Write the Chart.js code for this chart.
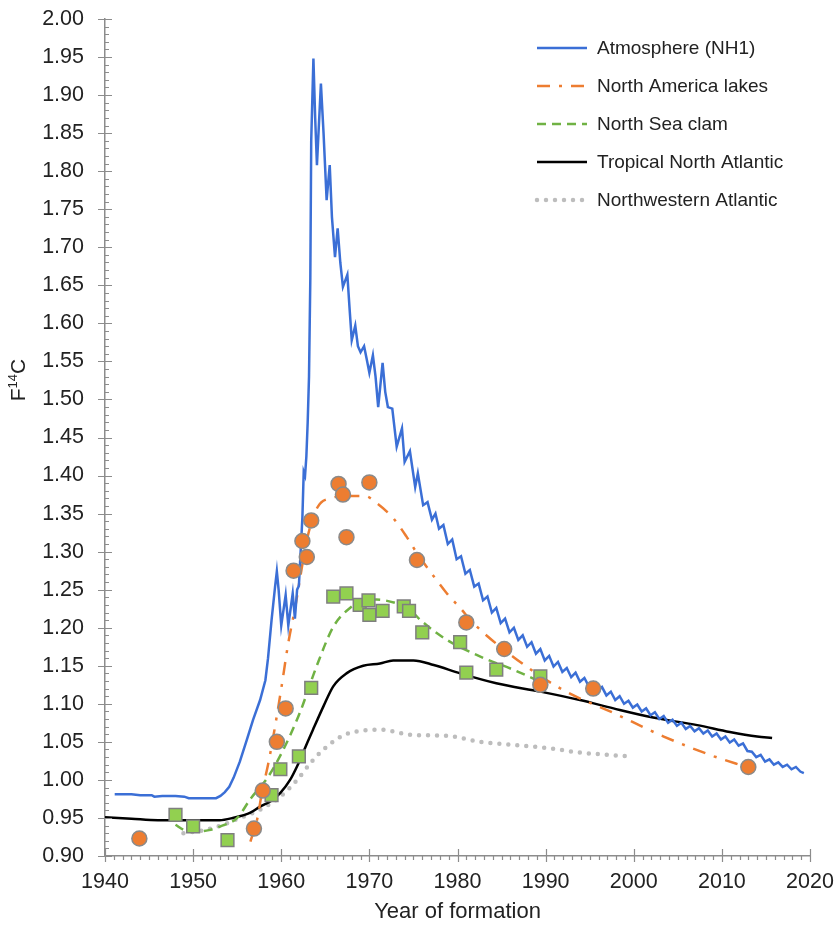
<!DOCTYPE html>
<html>
<head>
<meta charset="utf-8">
<script src="https://cdn.jsdelivr.net/npm/chart.js@4.4.1/dist/chart.umd.min.js"></script>
<style>
  html, body { margin: 0; padding: 0; background: #fff; }
  #wrap { width: 836px; height: 925px; }
</style>
</head>
<body>
<div id="wrap"><canvas id="grafico"></canvas></div>
<script>
// values: [year, F14C]
const atmosphere = [
  [1941.1,0.981],[1942,0.981],[1943,0.981],[1944,0.980],[1945.3,0.980],[1945.6,0.978],[1946.5,0.979],[1948,0.979],
  [1949,0.978],[1949.5,0.976],[1951,0.976],[1952.6,0.976],[1953.1,0.979],[1953.6,0.984],[1954.1,0.991],[1954.6,1.003],
  [1955.3,1.024],[1956.1,1.053],[1956.8,1.079],[1957.6,1.105],[1958.2,1.131],[1958.5,1.160],[1958.9,1.210],[1959.3,1.254],
  [1959.5,1.274],[1959.7,1.250],[1960.0,1.203],[1960.5,1.243],[1960.8,1.203],[1961.3,1.245],[1961.55,1.212],[1961.8,1.250],
  [1962.0,1.255],[1962.2,1.300],[1962.4,1.345],[1962.55,1.405],[1962.7,1.400],[1962.85,1.425],[1963.0,1.470],[1963.15,1.530],
  [1963.3,1.660],[1963.4,1.840],[1963.65,1.948],[1963.85,1.870],[1964.05,1.808],[1964.5,1.915],[1964.8,1.850],[1965.15,1.762],
  [1965.5,1.808],[1965.75,1.740],[1966.1,1.687],[1966.4,1.725],[1966.7,1.680],[1967.0,1.648],[1967.5,1.664],[1967.75,1.620],
  [1968.0,1.578],[1968.4,1.597],[1968.7,1.570],[1969.0,1.562],[1969.4,1.570],[1969.7,1.553],[1970.0,1.535],[1970.4,1.558],
  [1970.7,1.530],[1971.0,1.490],[1971.5,1.548],[1971.8,1.510],[1972.1,1.490],[1972.6,1.488],[1973.1,1.438],[1973.7,1.462],
  [1974.0,1.418],[1974.6,1.432],[1975.2,1.385],[1975.5,1.403],[1976.1,1.361],[1976.6,1.365],[1977.1,1.342],[1977.5,1.350],
  [1977.9,1.330],[1978.4,1.335],[1978.9,1.310],[1979.4,1.316],[1979.9,1.290],[1980.4,1.294],[1980.9,1.271],[1981.4,1.276],
  [1981.9,1.254],[1982.4,1.258],[1982.9,1.236],[1983.4,1.241],[1983.9,1.220],[1984.4,1.226],[1984.9,1.206],[1985.4,1.212],
  [1985.9,1.194],[1986.4,1.200],[1986.9,1.184],[1987.4,1.190],[1987.9,1.175],[1988.4,1.181],[1988.9,1.166],[1989.4,1.172],
  [1989.9,1.157],[1990.4,1.163],[1990.9,1.149],[1991.4,1.155],[1991.9,1.142],[1992.4,1.147],[1992.9,1.135],[1993.4,1.141],
  [1993.9,1.129],[1994.4,1.134],[1994.9,1.123],[1995.4,1.128],[1995.9,1.117],[1996.4,1.122],[1996.9,1.111],[1997.4,1.116],
  [1997.9,1.105],[1998.4,1.110],[1998.9,1.100],[1999.4,1.104],[1999.9,1.095],[2000.4,1.099],[2000.9,1.090],[2001.4,1.094],
  [2001.9,1.085],[2002.4,1.089],[2002.9,1.080],[2003.4,1.084],[2003.9,1.075],[2004.4,1.079],[2004.9,1.071],[2005.4,1.075],
  [2005.9,1.067],[2006.4,1.071],[2006.9,1.064],[2007.4,1.068],[2007.9,1.061],[2008.4,1.065],[2008.9,1.057],[2009.4,1.061],
  [2009.9,1.053],[2010.4,1.057],[2010.9,1.049],[2011.4,1.053],[2011.9,1.045],[2012.4,1.048],[2012.9,1.038],[2013.4,1.037],
  [2013.9,1.030],[2014.4,1.033],[2014.9,1.024],[2015.4,1.027],[2015.9,1.020],[2016.4,1.023],[2016.9,1.017],[2017.4,1.020],
  [2017.9,1.014],[2018.4,1.017],[2018.9,1.011],[2019.3,1.009]
];

const lakesCurve = [
  [1956.5,0.919],[1957.3,0.950],[1957.8,0.983],[1958.5,1.020],[1959.1,1.057],[1960.0,1.120],[1960.8,1.180],
  [1961.6,1.228],[1962.1,1.263],[1963.0,1.320],[1964.1,1.358],[1965.5,1.370],[1967.8,1.373],[1969.5,1.373],
  [1970.8,1.364],[1972.7,1.344],[1974.2,1.320],[1975.4,1.298],[1977.6,1.263],[1978.8,1.245],[1980.3,1.226],
  [1981.8,1.206],[1986.3,1.162],[1992.0,1.118],[1997.7,1.088],[2003.4,1.057],[2009.1,1.031],[2012.8,1.017]
];

const lakesPoints = [
  [1943.9,0.923],[1956.9,0.936],[1957.9,0.986],[1959.5,1.050],[1960.5,1.094],[1961.4,1.275],[1962.4,1.314],
  [1962.9,1.293],[1963.4,1.341],[1966.5,1.389],[1967.0,1.375],[1967.4,1.319],[1970.0,1.391],[1975.4,1.289],
  [1981.0,1.207],[1985.3,1.172],[1989.4,1.125],[1995.4,1.120],[2013.0,1.017]
];

const clamCurve = [
  [1948.0,0.941],[1949.0,0.934],[1950.4,0.932],[1951.8,0.934],[1953.1,0.939],[1955.0,0.950],[1956.5,0.975],
  [1958.5,1.004],[1960.2,1.039],[1962.1,1.088],[1964.0,1.149],[1965.9,1.201],[1967.8,1.226],[1969.3,1.235],
  [1970.8,1.237],[1973.1,1.232],[1974.5,1.225],[1975.8,1.210],[1978.8,1.184],[1982.6,1.162],[1986.3,1.145],
  [1989.4,1.129]
];

const clamPoints = [
  [1948.0,0.954],[1950.0,0.939],[1953.9,0.921],[1958.9,0.980],[1959.9,1.014],[1962.0,1.031],[1963.4,1.121],
  [1965.9,1.241],[1967.4,1.245],[1968.9,1.230],[1969.9,1.236],[1970.0,1.217],[1971.5,1.222],[1973.9,1.228],
  [1974.5,1.222],[1976.0,1.194],[1980.3,1.181],[1981.0,1.141],[1984.4,1.145],[1989.4,1.136]
];

const tropicalAtlantic = [
  [1940.0,0.951],[1943.0,0.949],[1946.0,0.947],[1950.0,0.947],[1953.0,0.947],[1954.5,0.950],[1956.5,0.957],
  [1957.6,0.965],[1958.8,0.972],[1959.9,0.983],[1961.0,1.000],[1961.8,1.018],[1962.7,1.042],[1963.6,1.066],
  [1964.8,1.097],[1965.9,1.123],[1967.4,1.140],[1969.3,1.150],[1971.2,1.153],[1972.7,1.157],[1975.0,1.157],
  [1977.3,1.151],[1980.3,1.140],[1984.4,1.127],[1989.4,1.116],[1993.9,1.105],[1997.7,1.094],[2002.2,1.082],
  [2007.2,1.072],[2010.9,1.063],[2014.0,1.057],[2015.7,1.055]
];

const northwestAtlantic = [
  [1948.9,0.930],[1950.8,0.933],[1953.1,0.940],[1955.3,0.950],[1957.6,0.961],[1959.9,0.978],[1961.8,1.000],
  [1963.6,1.026],[1965.2,1.044],[1967.1,1.059],[1969.3,1.065],[1971.2,1.066],[1975.0,1.059],[1978.8,1.058],
  [1982.6,1.050],[1986.3,1.046],[1990.1,1.042],[1993.9,1.036],[1999.4,1.031]
];

const xTicks = { min: 1940, max: 2020, step: 10 };
const yTicks = { min: 0.9, max: 2.0, step: 0.05 };

function toPoints(arr) {
  return arr.map(function (p) { return { x: p[0], y: p[1] }; });
}

Chart.defaults.font.family = "'Liberation Sans', Arial, sans-serif";
Chart.defaults.color = "#222222";

const axisColor = "#8c8c8c";

// tick marks, y title and legend drawn by hand like the original
const decoracao = {
  id: "decoracao",
  afterDraw: function (chart) {
    const ctx = chart.ctx;
    const area = chart.chartArea;
    const xs = chart.scales.x;
    const ys = chart.scales.y;

    ctx.save();
    ctx.strokeStyle = axisColor;
    ctx.lineWidth = 1.2;
    ctx.beginPath();
    for (let yr = xTicks.min; yr <= xTicks.max; yr++) {
      const px = Math.round(xs.getPixelForValue(yr)) + 0.5;
      const major = yr % xTicks.step === 0;
      ctx.moveTo(px, area.bottom + (major ? 6 : 4));
      ctx.lineTo(px, area.bottom - (major ? 7 : 0));
    }
    for (let k = 90; k <= 200; k++) {
      const py = Math.round(ys.getPixelForValue(k / 100)) + 0.5;
      const major = k % 5 === 0;
      ctx.moveTo(area.left - (major ? 7 : 0), py);
      ctx.lineTo(area.left + (major ? 7 : 4), py);
    }
    ctx.stroke();
    ctx.restore();

    // y title F14C
    ctx.save();
    ctx.translate(19, 380);
    ctx.rotate(-Math.PI / 2);
    ctx.fillStyle = "#222222";
    ctx.textBaseline = "middle";
    const big = "21px 'Liberation Sans', Arial, sans-serif";
    const small = "13px 'Liberation Sans', Arial, sans-serif";
    ctx.font = big;
    const wF = ctx.measureText("F").width;
    const wC = ctx.measureText("C").width;
    ctx.font = small;
    const w14 = ctx.measureText("14").width;
    let x0 = -(wF + w14 + wC) / 2;
    ctx.font = big;
    ctx.fillText("F", x0, 0);
    ctx.font = small;
    ctx.fillText("14", x0 + wF, -6);
    ctx.font = big;
    ctx.fillText("C", x0 + wF + w14, 0);
    ctx.restore();

    // legend
    ctx.save();
    let i = 0;
    chart.data.datasets.forEach(function (ds) {
      if (!ds.naLegenda) return;
      const y = 48 + i * 38;
      ctx.beginPath();
      ctx.strokeStyle = ds.borderColor;
      ctx.lineWidth = ds.borderWidth;
      ctx.setLineDash(ds.borderDash || []);
      ctx.lineCap = ds.borderCapStyle || "butt";
      ctx.moveTo(537, y);
      ctx.lineTo(587, y);
      ctx.stroke();
      ctx.setLineDash([]);
      ctx.fillStyle = "#222222";
      ctx.font = "19px 'Liberation Sans', Arial, sans-serif";
      ctx.textBaseline = "middle";
      ctx.fillText(ds.label, 597, y + 1);
      i++;
    });
    ctx.restore();
  }
};

const ctx = document.getElementById("grafico").getContext("2d");

const grafico = new Chart(ctx, {
  type: "line",
  data: {
    datasets: [
      {
        type: "scatter",
        label: "North America lakes (data)",
        data: toPoints(lakesPoints),
        pointRadius: 7.5,
        backgroundColor: "#ED7D31",
        borderColor: "#8a8a8a",
        borderWidth: 1.5,
      },
      {
        type: "scatter",
        label: "North Sea clam (data)",
        data: toPoints(clamPoints),
        pointStyle: "rect",
        pointRadius: 9,
        backgroundColor: "#92D050",
        borderColor: "#7f7f7f",
        borderWidth: 1.5,
      },
      {
        label: "Atmosphere (NH1)",
        data: toPoints(atmosphere),
        borderColor: "#3b6fd6",
        borderWidth: 2.5,
        pointRadius: 0,
        tension: 0,
        naLegenda: true,
      },
      {
        label: "North America lakes",
        data: toPoints(lakesCurve),
        borderColor: "#ED7D31",
        borderWidth: 2.5,
        borderDash: [13, 9, 3, 9],
        pointRadius: 0,
        cubicInterpolationMode: "monotone",
        naLegenda: true,
      },
      {
        label: "North Sea clam",
        data: toPoints(clamCurve),
        borderColor: "#70b244",
        borderWidth: 2.5,
        borderDash: [9, 6],
        pointRadius: 0,
        cubicInterpolationMode: "monotone",
        naLegenda: true,
      },
      {
        label: "Tropical North Atlantic",
        data: toPoints(tropicalAtlantic),
        borderColor: "#000000",
        borderWidth: 2.5,
        pointRadius: 0,
        cubicInterpolationMode: "monotone",
        naLegenda: true,
      },
      {
        label: "Northwestern Atlantic",
        data: toPoints(northwestAtlantic),
        borderColor: "#bdbdbd",
        borderWidth: 4.5,
        borderDash: [0, 9],
        borderCapStyle: "round",
        pointRadius: 0,
        cubicInterpolationMode: "monotone",
        naLegenda: true,
      },
    ],
  },
  options: {
    responsive: true,
    maintainAspectRatio: false,
    animation: false,
    layout: { padding: { top: 19, right: 26, left: 0, bottom: 0 } },
    plugins: {
      legend: { display: false },
      tooltip: { enabled: false },
    },
    scales: {
      x: {
        type: "linear",
        min: xTicks.min,
        max: xTicks.max,
        grid: { display: false, drawTicks: false },
        border: { color: axisColor, width: 1.5 },
        ticks: {
          stepSize: xTicks.step,
          padding: 13,
          font: { size: 21.5 },
          callback: function (v) { return String(v); },
        },
        title: {
          display: true,
          text: "Year of formation",
          font: { size: 22 },
          padding: { top: 0, bottom: 0 },
        },
        afterFit: function (s) {
          s.height = 69;
          s.paddingLeft = 0;
          s.paddingRight = 0;
        },
      },
      y: {
        min: yTicks.min,
        max: yTicks.max,
        grid: { display: false, drawTicks: false },
        border: { color: axisColor, width: 1.5 },
        ticks: {
          stepSize: yTicks.step,
          padding: 21,
          font: { size: 21.5 },
          callback: function (v) { return v.toFixed(2); },
        },
        afterFit: function (s) {
          s.width = 105;
          s.paddingTop = 0;
          s.paddingBottom = 0;
        },
      },
    },
  },
  plugins: [decoracao],
});
</script>
</body>
</html>
